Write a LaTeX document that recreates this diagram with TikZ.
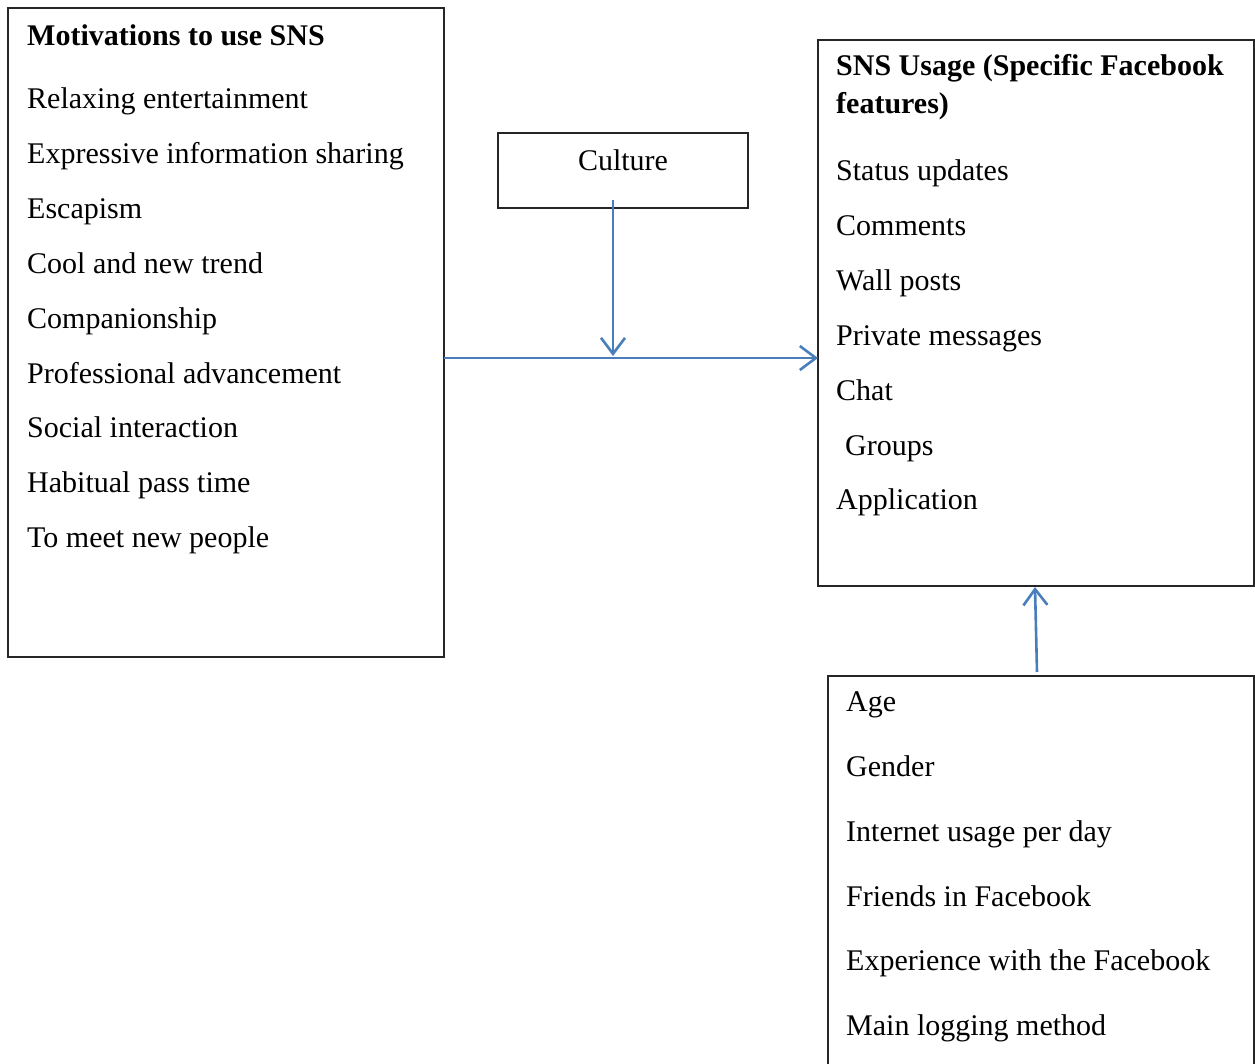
\documentclass[tikz,border=0pt]{standalone}
\usepackage{fontspec}
\setmainfont{Liberation Serif}
\usetikzlibrary{arrows.meta}
\definecolor{arrblue}{HTML}{4A7EBB}
\begin{document}
\begin{tikzpicture}[x=1pt,y=-1pt,
  box/.style={draw=black!85, line width=1.2pt, inner sep=0pt, outer sep=0pt, anchor=north west, rectangle},
  txt/.style={anchor=base west, inner sep=0pt, font=\fontsize{30}{36}\selectfont},
  ttl/.style={txt, font=\fontsize{30}{36}\selectfont\bfseries},
  arr/.style={draw=arrblue, line width=2.6pt, -{Straight Barb[length=16pt,width=24pt,line width=2.6pt]}}]
\useasboundingbox (0,0) rectangle (1255,1063);
\clip (0,0) rectangle (1255,1063);
% boxes
\node[box, minimum width=436pt, minimum height=649pt] (mot) at (8,8) {};
\node[box, minimum width=250pt, minimum height=75pt] (cul) at (498,133) {};
\node[box, minimum width=436pt, minimum height=546pt] (use) at (818,40) {};
\node[box, minimum width=426pt, minimum height=420pt] (dem) at (828,676) {};
% left texts
\node[ttl] (m0) at (27,45) {Motivations to use SNS};
\node[txt] (m1) at (27,108) {Relaxing entertainment};
\node[txt] (m2) at (27,163) {Expressive information sharing};
\node[txt] (m3) at (27,218) {Escapism};
\node[txt] (m4) at (27,273) {Cool and new trend};
\node[txt] (m5) at (27,328) {Companionship};
\node[txt] (m6) at (27,383) {Professional advancement};
\node[txt] (m7) at (27,437) {Social interaction};
\node[txt] (m8) at (27,492) {Habitual pass time};
\node[txt] (m9) at (27,547) {To meet new people};
% culture
\node[anchor=base, inner sep=0pt, font=\fontsize{30}{36}\selectfont] (c0) at (623,170) {Culture};
% right top texts
\node[ttl] (u0) at (836,75) {SNS Usage (Specific Facebook};
\node[ttl] (u0b) at (836,113) {features)};
\node[txt] (u1) at (836,180) {Status updates};
\node[txt] (u2) at (836,235) {Comments};
\node[txt] (u3) at (836,290) {Wall posts};
\node[txt] (u4) at (836,345) {Private messages};
\node[txt] (u5) at (836,400) {Chat};
\node[txt] (u6) at (845,455) {Groups};
\node[txt] (u7) at (836,509) {Application};
% bottom texts
\node[txt] (d1) at (846,711) {Age};
\node[txt] (d2) at (846,776) {Gender};
\node[txt] (d3) at (846,841) {Internet usage per day};
\node[txt] (d4) at (846,906) {Friends in Facebook};
\node[txt] (d5) at (846,970) {Experience with the Facebook};
\node[txt] (d6) at (846,1035) {Main logging method};
% connectors
\coordinate (hl) at (0,358);
\coordinate (cs) at (613,200);
\coordinate (ce) at (613,356);
\coordinate (us) at (1037,672);
\coordinate (ue) at (1035,587);
\draw[arr] (mot.east |- hl) -- (use.west |- hl);
\draw[arr] (cs) -- (ce);
\draw[arr] (us) -- (ue);
\end{tikzpicture}
\end{document}
